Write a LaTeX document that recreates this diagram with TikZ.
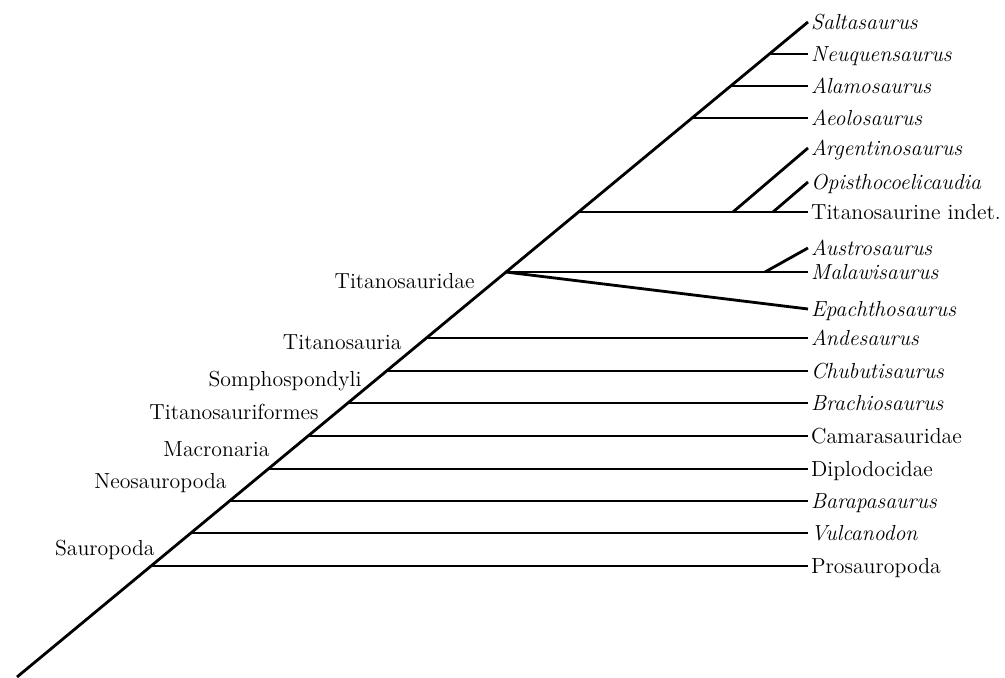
\documentclass[tikz,border=0pt]{standalone}
\usepackage{tikz}

\begin{document}
\begin{tikzpicture}[x=0.02cm, y=-0.02cm, line width=1.6pt,
    every node/.style={font=\fontsize{12.4}{14}\selectfont, inner sep=1pt},
    taxon/.style={anchor=west, text height=8pt, text depth=0pt},
    genus/.style={taxon, font=\fontsize{12.4}{14}\selectfont\itshape},
    clade/.style={anchor=base east, inner sep=0pt}]
  \useasboundingbox (0,0) rectangle (1005,678);

  % branch points on the stem
  \coordinate (root)              at (17,677);
  \coordinate (sauropodomorpha)   at (151,566);
  \coordinate (sauropoda)         at (190.7,533);
  \coordinate (eusauropoda)       at (229.3,501);
  \coordinate (neosauropoda)      at (268,469);
  \coordinate (macronaria)        at (307.7,436);
  \coordinate (titanosauriformes) at (347.5,403);
  \coordinate (somphospondyli)    at (386,371);
  \coordinate (titanosauria)      at (426,338);
  \coordinate (titanosauridae)    at (505.5,272);
  \coordinate (titanosaurinae)    at (578,212);
  \coordinate (aeoloNode)         at (691,118);
  \coordinate (alamoNode)         at (730,86);
  \coordinate (neuqNode)          at (768.4,54);
  \coordinate (argNode)           at (733,212);
  \coordinate (opisNode)          at (773,212);
  \coordinate (austroNode)        at (765,272);

  % terminal taxa
  \node[genus] (salta)  at (808,22)  {Saltasaurus};
  \node[genus] (neuq)   at (808,54)  {Neuquensaurus};
  \node[genus] (alamo)  at (808,86)  {Alamosaurus};
  \node[genus] (aeolo)  at (808,118) {Aeolosaurus};
  \node[genus] (arg)    at (808,148) {Argentinosaurus};
  \node[genus] (opis)   at (808,182) {Opisthocoelicaudia};
  \node[taxon] (tind)   at (808,212) {Titanosaurine indet.};
  \node[genus] (austro) at (808,248) {Austrosaurus};
  \node[genus] (malawi) at (808,272) {Malawisaurus};
  \node[genus] (epach)  at (808,309) {Epachthosaurus};
  \node[genus] (andes)  at (808,338) {Andesaurus};
  \node[genus] (chubu)  at (808,371) {Chubutisaurus};
  \node[genus] (brach)  at (808,403) {Brachiosaurus};
  \node[taxon] (camara) at (808,436) {Camarasauridae};
  \node[taxon] (diplo)  at (808,469) {Diplodocidae};
  \node[genus] (barapa) at (808,501) {Barapasaurus};
  \node[genus] (vulca)  at (808,533) {Vulcanodon};
  \node[taxon] (proso)  at (808,566) {Prosauropoda};

  % clade names
  \node[clade] (lSauropoda)         at (156,556) {Sauropoda};
  \node[clade] (lNeosauropoda)      at (228,489) {Neosauropoda};
  \node[clade] (lMacronaria)        at (271,457) {Macronaria};
  \node[clade] (lTitanosauriformes) at (320,420) {Titanosauriformes};
  \node[clade] (lSomphospondyli)    at (363,387) {Somphospondyli};
  \node[clade] (lTitanosauria)      at (403,350) {Titanosauria};
  \node[clade] (lTitanosauridae)    at (476,289) {Titanosauridae};

  % stem and branches
  \draw (root) -- (salta.west);
  \draw (sauropodomorpha)   -- (proso.west);
  \draw (sauropoda)         -- (vulca.west);
  \draw (eusauropoda)       -- (barapa.west);
  \draw (neosauropoda)      -- (diplo.west);
  \draw (macronaria)        -- (camara.west);
  \draw (titanosauriformes) -- (brach.west);
  \draw (somphospondyli)    -- (chubu.west);
  \draw (titanosauria)      -- (andes.west);
  \draw (titanosauridae)    -- (malawi.west);
  \draw (titanosauridae)    -- (epach.west);
  \draw (austroNode)        -- (austro.west);
  \draw (titanosaurinae)    -- (tind.west);
  \draw (argNode)           -- (arg.west);
  \draw (opisNode)          -- (opis.west);
  \draw (aeoloNode)         -- (aeolo.west);
  \draw (alamoNode)         -- (alamo.west);
  \draw (neuqNode)          -- (neuq.west);
\end{tikzpicture}
\end{document}
